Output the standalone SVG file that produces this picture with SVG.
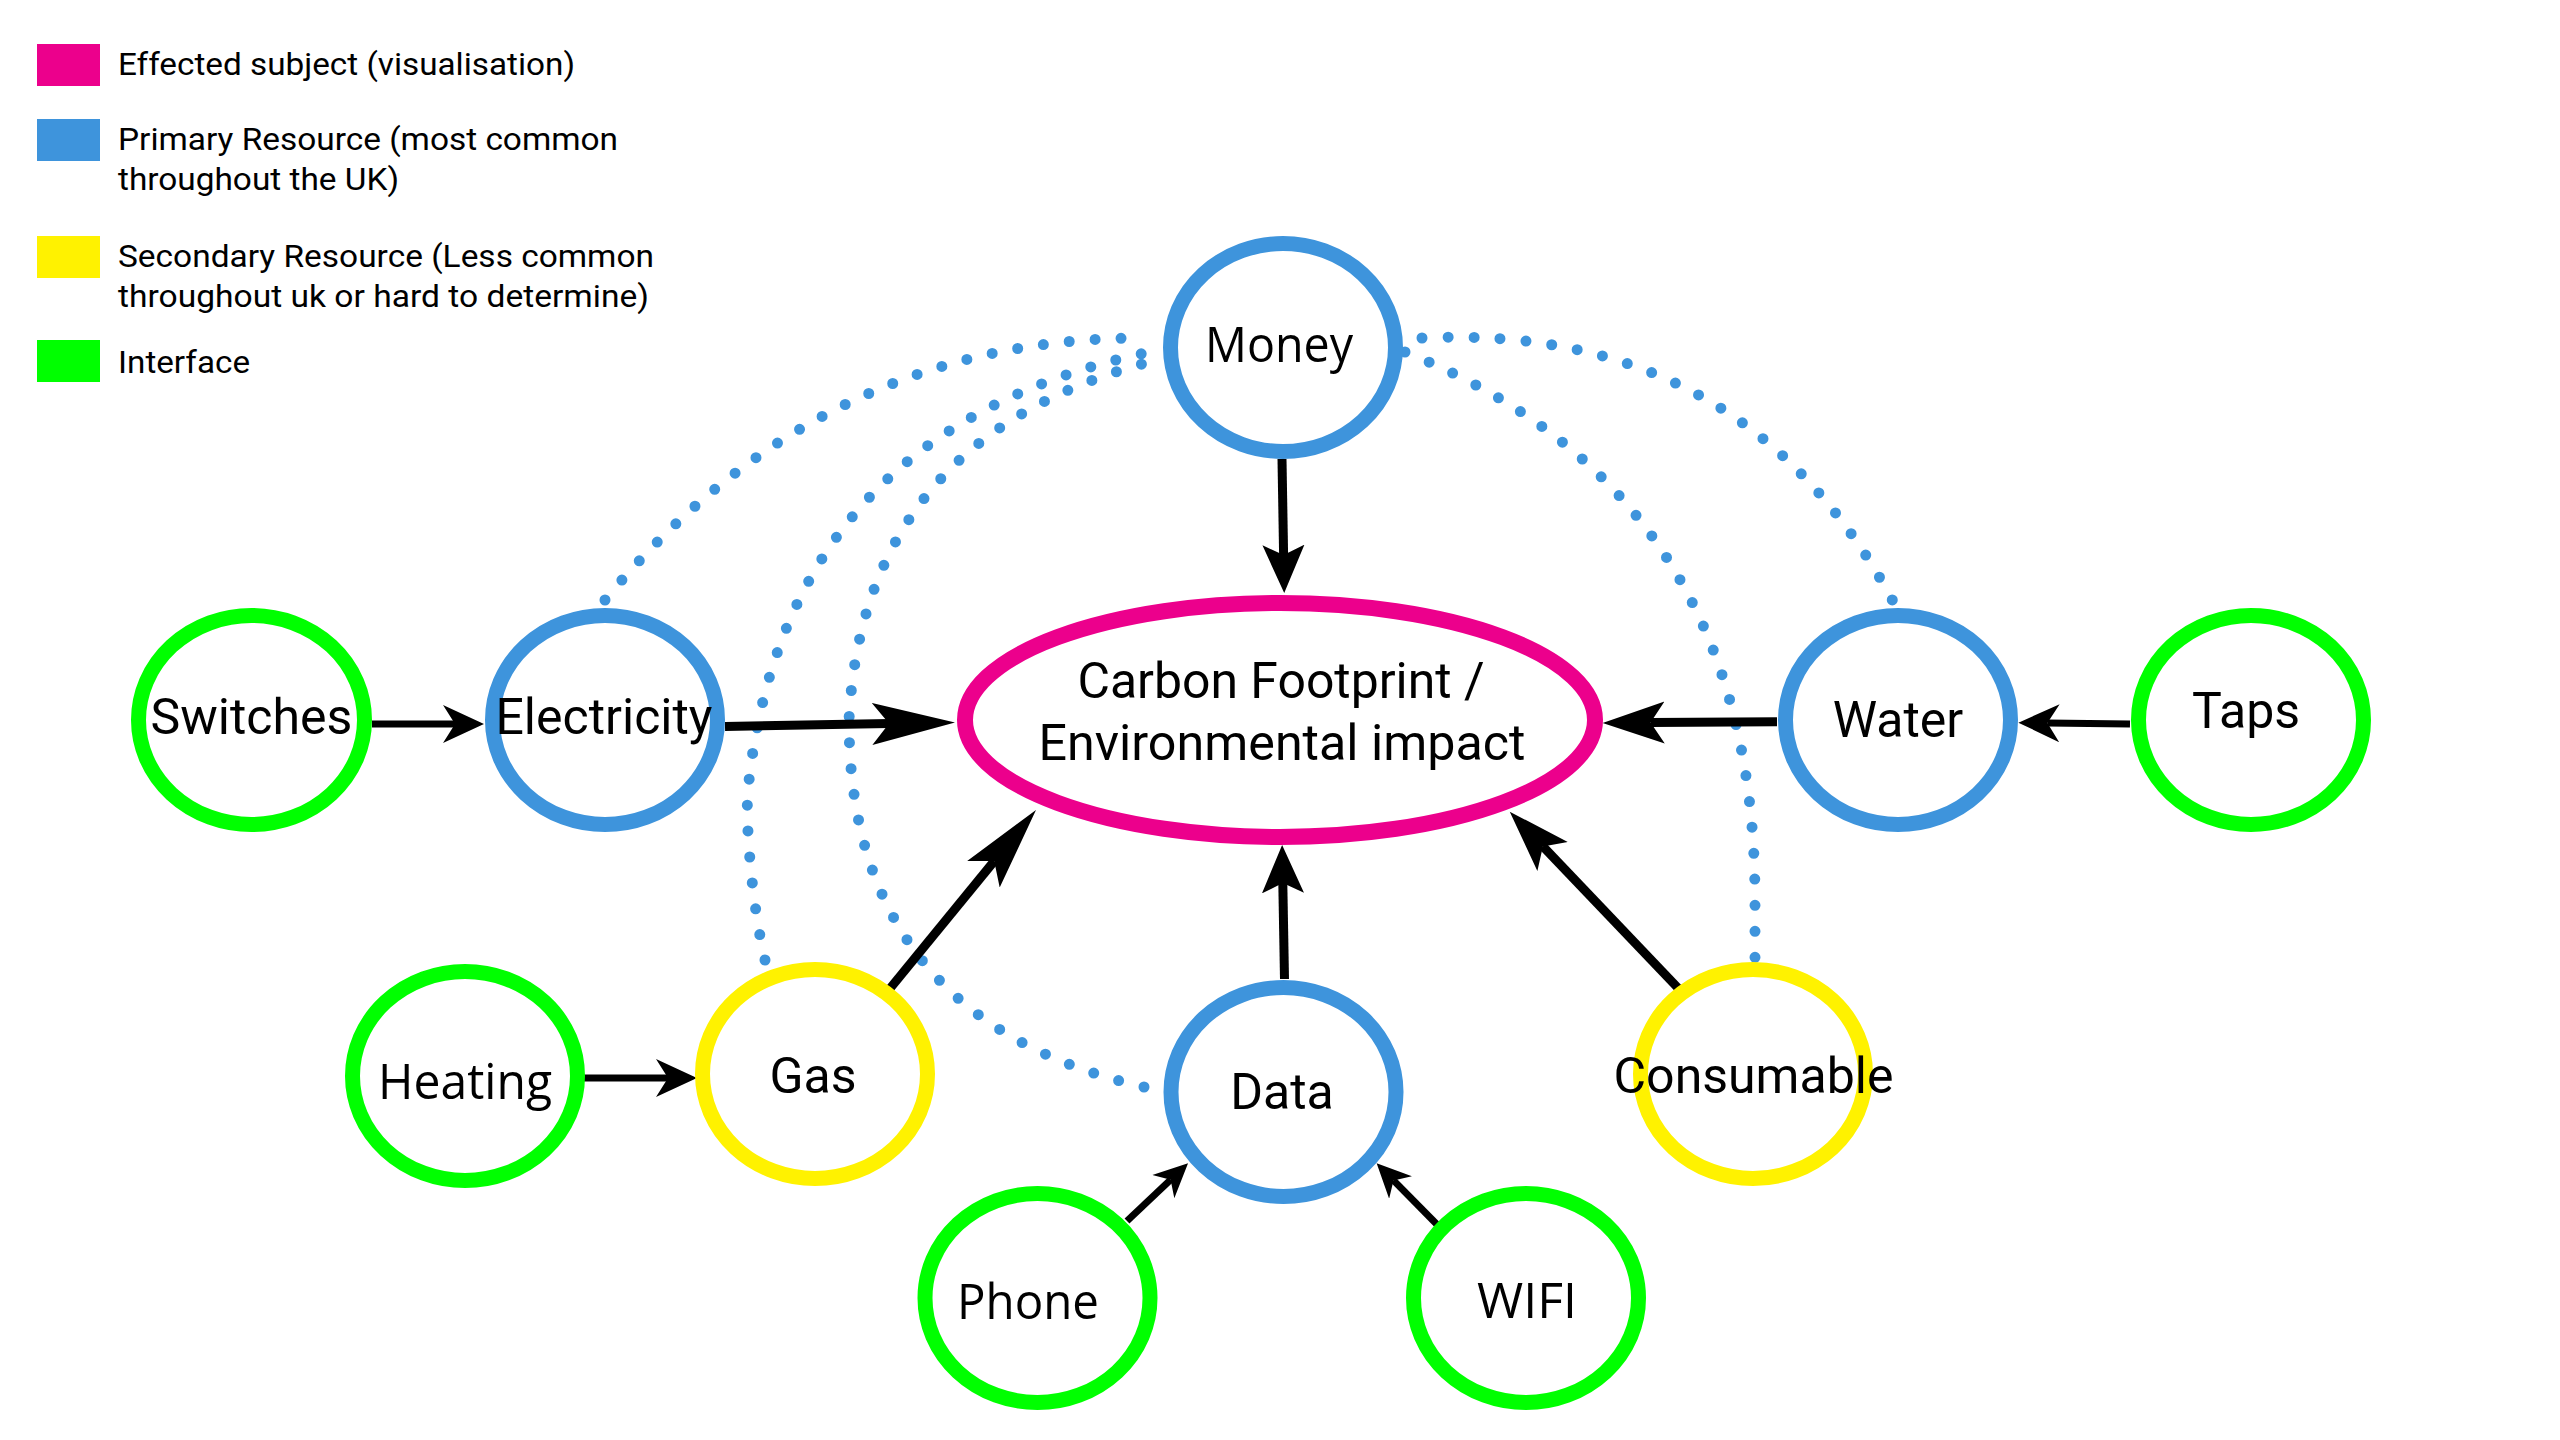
<svg xmlns="http://www.w3.org/2000/svg" width="2560" height="1440" viewBox="0 0 2560 1440">
<defs>
<style>
.bg{fill:#ffffff}
.node{fill:#ffffff;stroke-width:15}
.blue{stroke:#3e94dc}
.green{stroke:#00ff00}
.yellow{stroke:#fff200}
.pink{stroke:#ec008c;stroke-width:16}
.lbl{font-family:Roboto,"Liberation Sans",sans-serif;font-size:50px;fill:#000;text-anchor:middle}
.lbl2{font-family:"Open Sans","Noto Sans","Liberation Sans",sans-serif;font-size:50px;fill:#000;text-anchor:middle}
.ctr{font-family:Roboto,"Liberation Sans",sans-serif;font-size:50px;fill:#000;text-anchor:middle}
.leg{font-family:Roboto,"Liberation Sans",sans-serif;font-size:32px;fill:#000}
.dot{fill:none;stroke:#3e94dc;stroke-width:11;stroke-linecap:round;stroke-dasharray:0 26}
.arr{fill:none;stroke:#000;stroke-width:9}
.arrs{fill:none;stroke:#000;stroke-width:7}
</style>
<marker id="mLong" markerUnits="userSpaceOnUse" viewBox="0 -25 90 50" markerWidth="90" markerHeight="50" refX="17" refY="0" orient="auto"><path d="M0,-21 L83,0 L0,21 L17,0 Z" fill="#000"/></marker>
<marker id="mMed" markerUnits="userSpaceOnUse" viewBox="0 -25 70 50" markerWidth="70" markerHeight="50" refX="14" refY="0" orient="auto"><path d="M0,-21 L62,0 L0,21 L14,0 Z" fill="#000"/></marker>
<marker id="mShort" markerUnits="userSpaceOnUse" viewBox="0 -25 55 50" markerWidth="55" markerHeight="50" refX="10" refY="0" orient="auto"><path d="M0,-21 L48,0 L0,21 L10,0 Z" fill="#000"/></marker>
<marker id="mSmall" markerUnits="userSpaceOnUse" viewBox="0 -22 45 44" markerWidth="45" markerHeight="44" refX="12" refY="0" orient="auto"><path d="M0,-19 L41,0 L0,19 L12,0 Z" fill="#000"/></marker>
<marker id="mTiny" markerUnits="userSpaceOnUse" viewBox="0 -18 38 36" markerWidth="38" markerHeight="36" refX="10" refY="0" orient="auto"><path d="M0,-16 L34,0 L0,16 L10,0 Z" fill="#000"/></marker>
</defs>
<rect class="bg" x="0" y="0" width="2560" height="1440"/>

<g id="legend">
<rect x="37" y="44" width="63" height="42" fill="#ec008c"/>
<text class="leg" x="118" y="75" textLength="457" lengthAdjust="spacingAndGlyphs">Effected subject (visualisation)</text>
<rect x="37" y="119" width="63" height="42" fill="#3e94dc"/>
<text class="leg" x="118" y="150" textLength="500" lengthAdjust="spacingAndGlyphs">Primary Resource (most common</text>
<text class="leg" x="118" y="190" textLength="281" lengthAdjust="spacingAndGlyphs">throughout the UK)</text>
<rect x="37" y="236" width="63" height="42" fill="#fff200"/>
<text class="leg" x="118" y="267" textLength="536" lengthAdjust="spacingAndGlyphs">Secondary Resource (Less common</text>
<text class="leg" x="118" y="307" textLength="531" lengthAdjust="spacingAndGlyphs">throughout uk or hard to determine)</text>
<rect x="37" y="340" width="63" height="42" fill="#00ff00"/>
<text class="leg" x="118" y="373" textLength="132" lengthAdjust="spacingAndGlyphs">Interface</text>
</g>

<g id="connectors">
<path class="dot" d="M605,600 Q821,338 1142,338"/>
<path class="dot" d="M765,960 C752,905 745,820 748,790 Q784,432 1145,353"/>
<path class="dot" d="M1144,1087 Q849,1019 849,720 Q863,442 1142,364"/>
<path class="dot" d="M1422,338 Q1745,322 1895,605"/>
<path class="dot" d="M1405,352 Q1755,492 1755,900 L1755,962"/>
<path class="arr" d="M1282,459 L1283.6,555" marker-end="url(#mShort)"/>
<path class="arr" d="M725,726.5 L889,723.6" marker-end="url(#mLong)"/>
<path class="arr" d="M1777,721.7 L1650.6,722.6" marker-end="url(#mMed)"/>
<path class="arr" d="M890.4,988 L994.2,861.1" marker-end="url(#mLong)"/>
<path class="arr" d="M1284.5,979 L1282.8,883" marker-end="url(#mShort)"/>
<path class="arr" d="M1678,988 L1542.9,846.4" marker-end="url(#mMed)"/>
<path class="arrs" d="M372,724 L455,724" marker-end="url(#mSmall)"/>
<path class="arrs" d="M2130,724 L2047.4,723" marker-end="url(#mSmall)"/>
<path class="arrs" d="M583,1078 L668,1078" marker-end="url(#mSmall)"/>
<path class="arrs" d="M1127,1221 L1170.6,1179.8" marker-end="url(#mTiny)"/>
<path class="arrs" d="M1437,1224.5 L1393.5,1180.4" marker-end="url(#mTiny)"/>
</g>

<g id="node-carbon">
<ellipse class="node pink" cx="1280" cy="720" rx="315" ry="117"/>
<text class="ctr" x="1281" y="698" textLength="407" lengthAdjust="spacingAndGlyphs">Carbon Footprint /</text>
<text class="ctr" x="1282" y="760" textLength="487" lengthAdjust="spacingAndGlyphs">Environmental impact</text>
</g>
<g id="node-money">
<ellipse class="node blue" cx="1283" cy="347.5" rx="112.5" ry="104"/>
<text class="lbl2" x="1279" y="362" textLength="148" lengthAdjust="spacingAndGlyphs">Money</text>
</g>
<g id="node-switches">
<ellipse class="node green" cx="251.5" cy="720" rx="113" ry="104.5"/>
<text class="lbl" x="251.5" y="734">Switches</text>
</g>
<g id="node-electricity">
<ellipse class="node blue" cx="605" cy="720" rx="112.5" ry="104.5"/>
<text class="lbl" x="604" y="734">Electricity</text>
</g>
<g id="node-water">
<ellipse class="node blue" cx="1898" cy="720" rx="112.5" ry="104.5"/>
<text class="lbl" x="1898" y="737">Water</text>
</g>
<g id="node-taps">
<ellipse class="node green" cx="2251" cy="720" rx="112.5" ry="104.5"/>
<text class="lbl" x="2246" y="728">Taps</text>
</g>
<g id="node-heating">
<ellipse class="node green" cx="465" cy="1076" rx="112.5" ry="104.5"/>
<text class="lbl2" x="465" y="1099" textLength="174" lengthAdjust="spacingAndGlyphs">Heating</text>
</g>
<g id="node-gas">
<ellipse class="node yellow" cx="815" cy="1074" rx="112.5" ry="104.5"/>
<text class="lbl" x="813" y="1093">Gas</text>
</g>
<g id="node-data">
<ellipse class="node blue" cx="1283.5" cy="1092" rx="112.5" ry="104.5"/>
<text class="lbl" x="1282" y="1109">Data</text>
</g>
<g id="node-consumable">
<ellipse class="node yellow" cx="1753" cy="1074" rx="112.5" ry="104.5"/>
<text class="lbl" x="1753.5" y="1093">Consumable</text>
</g>
<g id="node-phone">
<ellipse class="node green" cx="1037.5" cy="1298" rx="112.5" ry="104.5"/>
<text class="lbl2" x="1028" y="1319" textLength="142" lengthAdjust="spacingAndGlyphs">Phone</text>
</g>
<g id="node-wifi">
<ellipse class="node green" cx="1526" cy="1298" rx="112.5" ry="104.5"/>
<text class="lbl2" x="1527" y="1318">WIFI</text>
</g>
</svg>
